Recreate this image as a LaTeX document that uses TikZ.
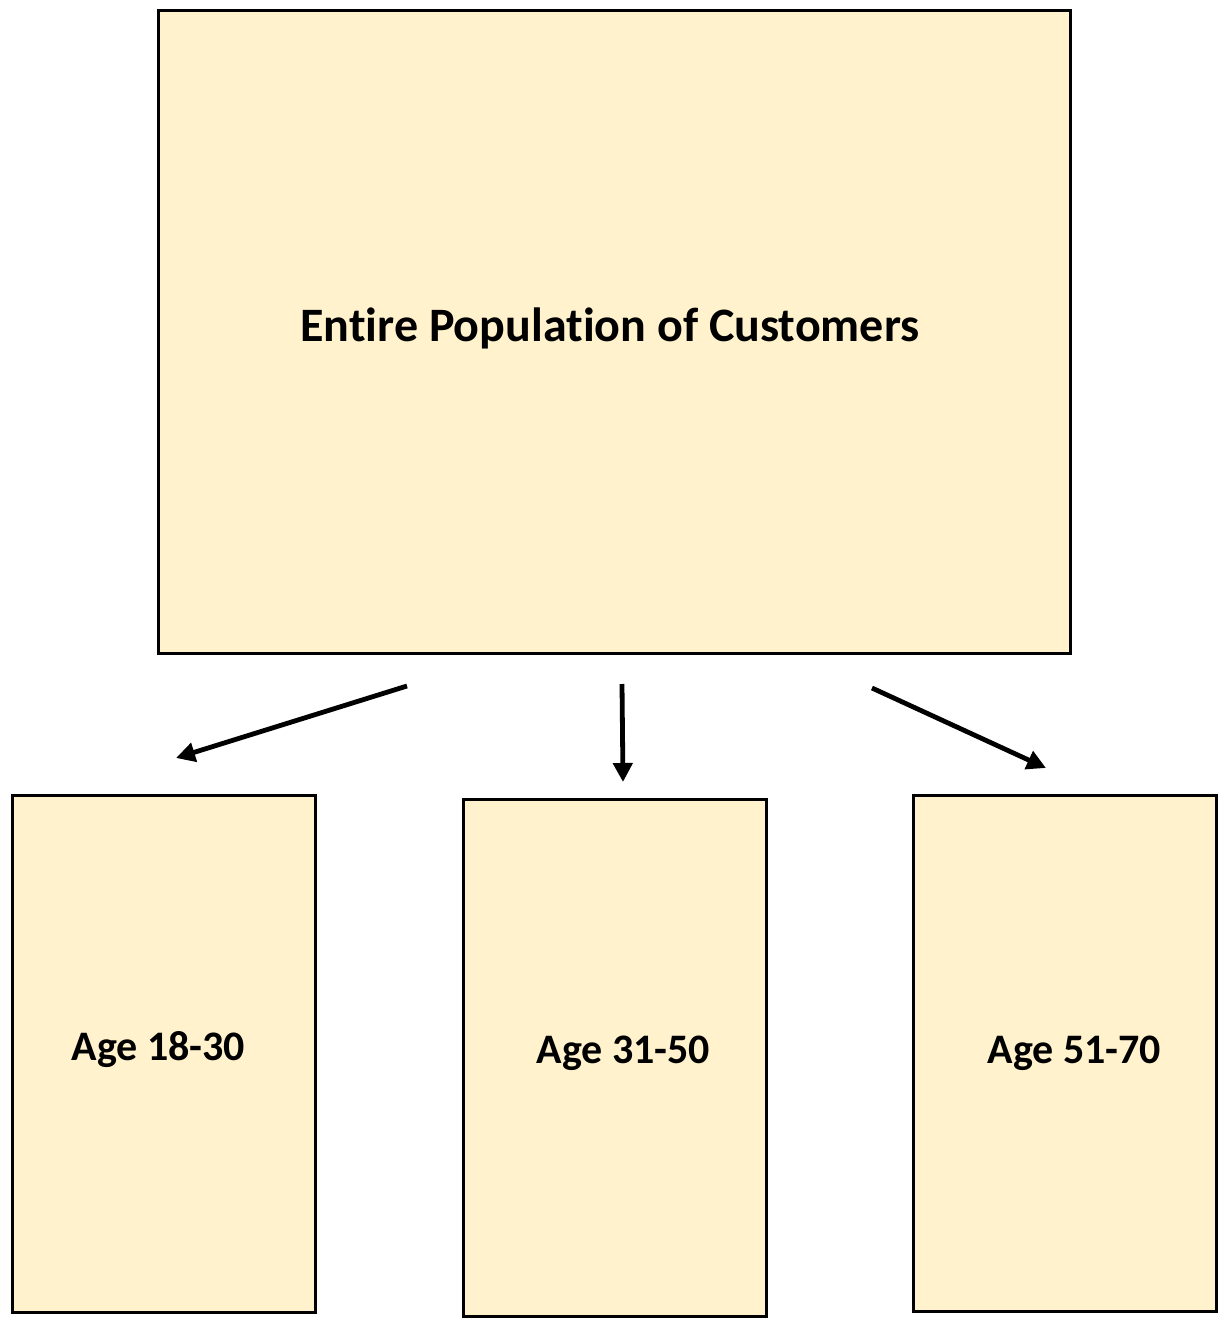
\documentclass[tikz,border=0pt]{standalone}
\usepackage{fontspec}
\setmainfont[Ligatures=NoCommon]{Carlito}
\usetikzlibrary{arrows.meta}

\begin{document}
\begin{tikzpicture}[x=1pt,y=-1pt]
					\tikzstyle{group}=[rectangle,draw,line width=3pt,fill={rgb,255:red,255;green,242;blue,204},inner sep=0pt]
					\tikzstyle{tag}=[font=\bfseries\fontsize{42}{46}\selectfont]
					\tikzstyle{split}=[line width=4.8pt,-{Triangle[length=19pt,width=19pt]}]
					\useasboundingbox (0,0) rectangle (1225,1320);
					
					\node[group,minimum width=912pt,minimum height=643pt,label={[tag,xshift=-4pt,yshift=3pt,font=\bfseries\fontsize{48}{52}\selectfont]center:Entire Population of Customers}] (pop) at (614,331.5) {};
					\node[group,minimum width=303pt,minimum height=517pt,label={[tag,xshift=-5pt,yshift=4pt]center:Age 18-30}] (young) at (163.5,1053.5) {};
					\node[group,minimum width=303pt,minimum height=517pt,label={[tag,xshift=9pt,yshift=4pt]center:Age 31-50}] (middle) at (614.5,1057.5) {};
					\node[group,minimum width=303pt,minimum height=516pt,label={[tag,xshift=10pt,yshift=0pt]center:Age 51-70}] (old) at (1064.5,1053) {};
					
					\coordinate (a1) at (407,686); \coordinate (b1) at (176,758);
					\coordinate (a2) at (622,684); \coordinate (b2) at (623,782);
					\coordinate (a3) at (872,688); \coordinate (b3) at (1046,768);
					\draw[split] (a1) -- (b1);
					\draw[split] (a2) -- (b2);
					\draw[split] (a3) -- (b3);
					
					\end{tikzpicture}
\end{document}
